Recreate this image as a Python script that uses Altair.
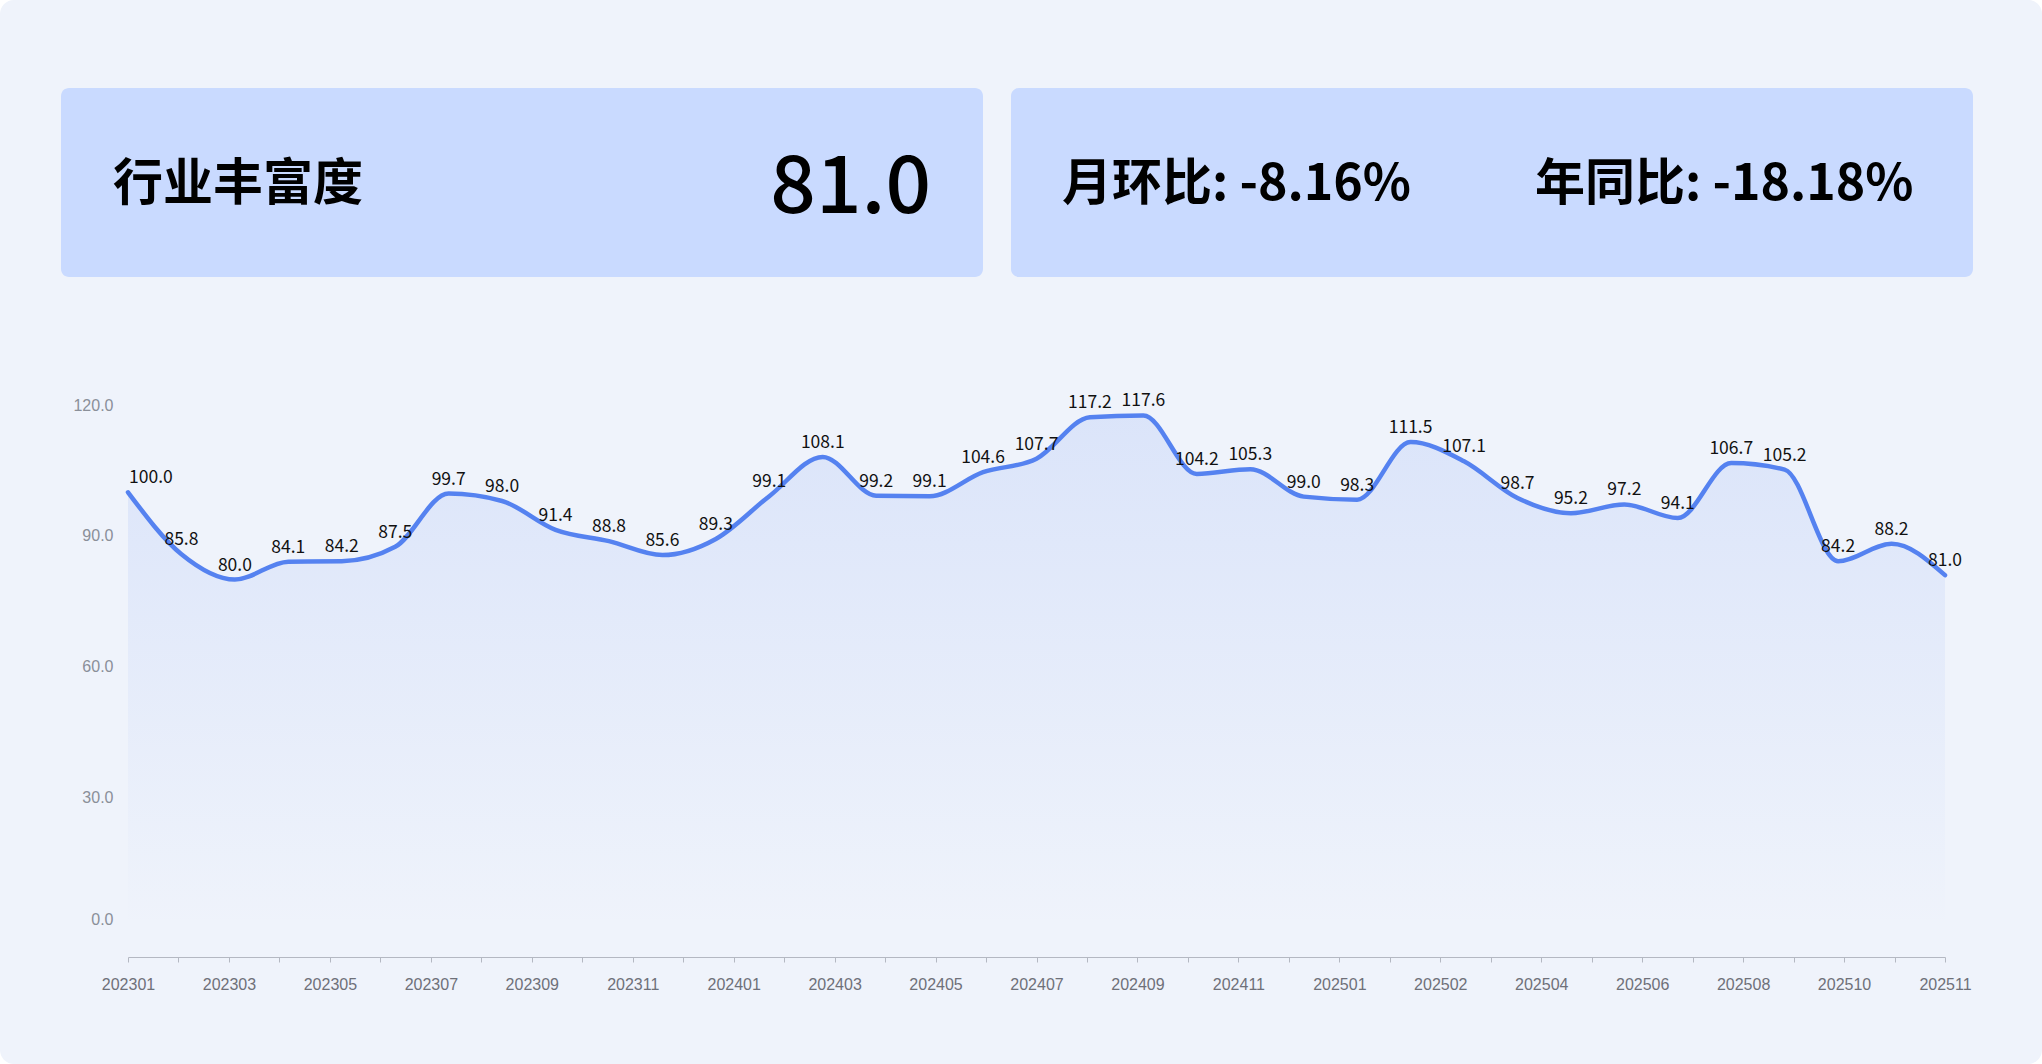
import altair as alt
import pandas as pd

# ---------------- data ----------------
months = ["202301", "202302", "202303", "202304", "202305", "202306", "202307", "202308",
          "202309", "202310", "202311", "202312", "202401", "202402", "202403", "202404",
          "202405", "202406", "202407", "202408", "202409", "202410", "202411", "202412",
          "202501", "202502", "202503", "202504", "202505", "202506", "202507", "202508",
          "202509", "202510", "202511"]
values = [100.0, 85.8, 80.0, 84.1, 84.2, 87.5, 99.7, 98.0, 91.4, 88.8, 85.6, 89.3,
          99.1, 108.1, 99.2, 99.1, 104.6, 107.7, 117.2, 117.6, 104.2, 105.3, 99.0, 98.3,
          111.5, 107.1, 98.7, 95.2, 97.2, 94.1, 106.7, 105.2, 84.2, 88.2, 81.0]
tick_labels = ["202301", "202303", "202305", "202307", "202309", "202311", "202401",
               "202403", "202405", "202407", "202409", "202411", "202501", "202502",
               "202504", "202506", "202508", "202510", "202511"]
y_ticks = [0, 30, 60, 90, 120]

card1_title = "行业丰富度"
card1_value = "81.0"
card2_left = "月环比: -8.16%"
card2_right = "年同比: -18.18%"

# ---------------- layout ----------------
W, H = 2042, 1064
PL, PT = 128, 405          # plot-area origin on the page
PW, PH = 1817, 552         # plot-area size
PR, PB = W - PL - PW, H - PT - PH

LINE = "#5582f0"
FONT = "Noto Sans CJK SC"

df = pd.DataFrame({"pos": list(range(len(values))), "month": months, "value": values})

n_int = 2 * (len(tick_labels) - 1)
span = len(values) - 1
x_tick_vals = [k * span / n_int for k in range(n_int + 1)]
arr = "[" + ",".join(f"'{t}'" for t in tick_labels) + "]"
label_expr = (f"(round(datum.value*{n_int}/{span}) % 2 == 0) ? "
              f"{arr}[round(datum.value*{n_int}/{span})/2] : ''")

x_enc = alt.X("pos:Q",
              scale=alt.Scale(domain=[0, span], nice=False, zero=False),
              axis=alt.Axis(values=x_tick_vals, labelExpr=label_expr, title=None,
                            grid=False, domainColor="#b4b8c2", tickColor="#b4b8c2",
                            tickSize=5, labelPadding=14, labelColor="#6e7079",
                            labelFontSize=16, labelFont="Liberation Sans",
                            labelFlush=False, labelOverlap=False, zindex=1))
y_enc = alt.Y("value:Q",
              scale=alt.Scale(domain=[-6.5, 120], nice=False, zero=False),
              axis=alt.Axis(values=y_ticks, format=".1f", title=None, grid=False,
                            domain=False, ticks=False, labelPadding=15,
                            labelColor="#8a8f99", labelFontSize=16,
                            labelFont="Liberation Sans", zindex=1,
                            labelOffset={"condition": {"test": "datum.value == 0", "value": -9},
                                         "value": 0}))

one = alt.Data(values=[{"k": 1}])


def rect(x0, y0, x1, y1, color, radius):
    return alt.Chart(one).mark_rect(color=color, cornerRadius=radius).encode(
        x=alt.value(x0 - PL), x2=alt.value(x1 - PL),
        y=alt.value(y0 - PT), y2=alt.value(y1 - PT))


def label(txt, x, y, size, align, baseline="middle", font=FONT, weight="bold"):
    return alt.Chart(one).mark_text(
        text=txt, align=align, baseline=baseline, fontSize=size, font=font,
        fontWeight=weight, color="#000000").encode(
        x=alt.value(x - PL), y=alt.value(y - PT))


panel = rect(0, 0, W, H, "#eff3fb", 14)
card1 = rect(61, 88, 983, 277, "#c9daff", 8)
card2 = rect(1011, 88, 1973, 277, "#c9daff", 8)
t1 = label(card1_title, 113, 185, 50, "left")
t2 = label(card1_value, 931, 213, 80, "right", "alphabetic", weight=500)
t3 = label(card2_left, 1062, 185, 50, "left")
t4 = label(card2_right, 1535, 185, 50, "left")

base = alt.Chart(df)
gradient = alt.Gradient(gradient="linear", x1=1, x2=1, y1=0, y2=1,
                        stops=[alt.GradientStop(color="rgba(85,130,240,0.13)", offset=0),
                               alt.GradientStop(color="rgba(85,130,240,0.0)", offset=1)])
area = base.mark_area(interpolate="monotone", color=gradient).encode(x=x_enc, y=y_enc)
line = base.mark_line(interpolate="monotone", color=LINE, strokeWidth=4.5,
                      strokeCap="round", strokeJoin="round").encode(x=x_enc, y=y_enc)
text_mid = base.transform_filter("datum.pos > 0").mark_text(
    baseline="middle", align="center", dy=-14, fontSize=17.5, font="Noto Sans CJK SC",
    color="#111111").encode(x="pos:Q", y="value:Q", text=alt.Text("value:Q", format=".1f"))
text_first = base.transform_filter("datum.pos == 0").mark_text(
    baseline="middle", align="left", dx=1, dy=-14, fontSize=17.5, font="Noto Sans CJK SC",
    color="#111111").encode(x="pos:Q", y="value:Q", text=alt.Text("value:Q", format=".1f"))

chart = alt.layer(panel, card1, card2, t1, t2, t3, t4, area, line, text_mid, text_first).properties(
    width=PW, height=PH,
    autosize=alt.AutoSizeParams(type="none"),
    padding={"left": PL, "top": PT, "right": PR, "bottom": PB},
    background="#ffffff",
).configure_view(stroke=None)

chart.save("out.html", embed_options={"renderer": "svg", "actions": False})
